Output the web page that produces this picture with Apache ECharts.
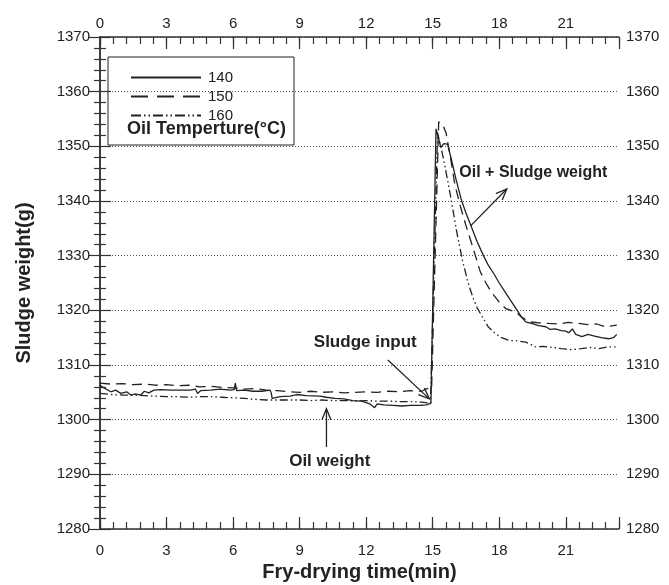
<!DOCTYPE html>
<html>
<head>
<meta charset="utf-8">
<script src="https://cdn.jsdelivr.net/npm/echarts@6/dist/echarts.min.js"></script>
<style>
html, body { margin: 0; padding: 0; background: #fff; }
#chart { width: 669px; height: 585px; }
</style>
</head>
<body>
<div id="chart"></div>
<script>
// oil temperature series (legend names)
var temps = ['140', '150', '160'];

// [time(min), weight(g)]
var w140 = [
  [0, 1306.3], [0.1, 1306.0], [0.49, 1305.1], [0.7, 1305.4], [0.94, 1304.8], [1.2, 1305.1],
  [1.39, 1304.5], [1.6, 1304.7], [1.84, 1304.5], [2.0, 1305.2], [2.2, 1304.9], [2.43, 1305.4],
  [2.74, 1305.5], [3.2, 1305.4], [3.6, 1305.4], [4.08, 1305.4], [4.3, 1305.6], [4.4, 1304.8],
  [4.53, 1305.3], [4.98, 1305.4], [5.43, 1305.6], [5.88, 1305.4], [6.05, 1305.5], [6.1, 1306.7],
  [6.16, 1305.3], [6.5, 1305.4], [6.9, 1305.2], [7.3, 1305.2], [7.67, 1305.4], [7.72, 1304.9],
  [7.76, 1303.9], [8.12, 1304.2], [8.57, 1304.3], [8.87, 1304.6], [9.3, 1304.4], [9.91, 1304.3],
  [10.2, 1304.1], [10.6, 1303.9], [11.0, 1303.8], [11.4, 1303.5], [11.8, 1303.4], [12.16, 1302.9],
  [12.38, 1302.2], [12.5, 1302.9], [12.8, 1302.7], [13.2, 1302.6], [13.6, 1302.5], [14.0, 1302.6],
  [14.4, 1302.6], [14.7, 1302.7], [14.92, 1303.0], [15.15, 1353.2], [15.37, 1349.8], [15.5, 1350.5],
  [15.67, 1350.4], [15.85, 1347.5], [16.05, 1344.0], [16.3, 1340.1], [16.5, 1337.8], [16.72, 1335.5],
  [17.0, 1332.6], [17.28, 1330.1], [17.5, 1328.3], [17.77, 1326.6], [18.0, 1325.0], [18.29, 1323.2],
  [18.55, 1321.6], [18.81, 1320.0], [19.0, 1318.8], [19.19, 1317.9], [19.45, 1317.6], [19.78, 1317.2],
  [20.1, 1317.0], [20.3, 1316.5], [20.53, 1316.6], [20.8, 1316.3], [21.0, 1316.2], [21.13, 1315.9],
  [21.3, 1316.6], [21.45, 1315.6], [21.73, 1315.2], [22.0, 1315.6], [22.3, 1315.3], [22.6, 1315.0],
  [22.93, 1314.8], [23.15, 1315.0], [23.3, 1315.6]
];
var w150 = [
  [0, 1306.7], [0.5, 1306.5], [1.0, 1306.6], [1.5, 1306.4], [2.0, 1306.5], [2.5, 1306.3],
  [3.0, 1306.4], [3.5, 1306.2], [4.0, 1306.3], [4.5, 1306.0], [5.0, 1306.1], [5.5, 1305.9],
  [6.0, 1305.8], [6.5, 1305.6], [7.0, 1305.7], [7.5, 1305.4], [8.0, 1305.3], [8.5, 1305.1],
  [9.0, 1305.0], [9.5, 1305.2], [10.0, 1305.0], [10.5, 1305.1], [11.0, 1304.9], [11.5, 1305.0],
  [12.0, 1305.1], [12.5, 1305.0], [13.0, 1305.2], [13.5, 1305.1], [14.0, 1305.3], [14.5, 1305.2],
  [14.75, 1305.7], [14.95, 1305.6], [15.27, 1354.5], [15.45, 1354.0], [15.6, 1352.5], [15.8, 1348.0],
  [16.0, 1343.0], [16.25, 1339.0], [16.5, 1335.5], [16.85, 1331.0], [17.15, 1327.0], [17.4, 1325.0],
  [17.65, 1323.3], [18.0, 1321.5], [18.3, 1320.3], [18.74, 1319.7], [19.0, 1318.8], [19.34, 1317.9],
  [19.8, 1317.7], [20.23, 1317.6], [20.7, 1317.5], [21.1, 1317.8], [21.58, 1317.6], [22.0, 1317.4],
  [22.4, 1317.5], [22.78, 1317.0], [23.3, 1317.3]
];
var w160 = [
  [0, 1304.8], [0.5, 1304.6], [1.0, 1304.5], [1.5, 1304.5], [2.0, 1304.4], [2.5, 1304.3],
  [3.0, 1304.2], [3.5, 1304.2], [4.0, 1304.1], [4.5, 1304.2], [5.0, 1304.2], [5.5, 1304.1],
  [6.0, 1304.0], [6.5, 1303.9], [7.0, 1303.7], [7.5, 1303.6], [8.0, 1303.6], [8.5, 1303.6],
  [9.0, 1303.6], [9.5, 1303.5], [10.0, 1303.6], [10.5, 1303.5], [11.0, 1303.5], [11.5, 1303.4],
  [12.0, 1303.5], [12.5, 1303.4], [13.0, 1303.4], [13.5, 1303.3], [14.0, 1303.3], [14.5, 1303.2],
  [14.9, 1303.0], [15.22, 1352.5], [15.5, 1347.5], [15.8, 1341.0], [16.1, 1334.0], [16.35, 1329.0],
  [16.6, 1325.0], [16.8, 1322.5], [17.0, 1320.5], [17.24, 1318.8], [17.5, 1317.0], [17.84, 1315.7],
  [18.1, 1315.0], [18.44, 1314.5], [18.8, 1314.4], [19.19, 1314.2], [19.4, 1313.8], [19.64, 1313.3],
  [20.0, 1313.4], [20.4, 1313.2], [20.8, 1313.0], [21.28, 1312.8], [21.7, 1313.0], [22.1, 1313.2],
  [22.5, 1313.0], [22.9, 1313.3], [23.3, 1313.3]
];

// annotations in data coordinates
var arrows = [
  { from: [16.72, 1335.5], to: [18.34, 1342.2] },
  { from: [12.98, 1310.9], to: [14.85, 1303.8] },
  { from: [10.21, 1295.0], to: [10.21, 1302.0] }
];
var notes = [
  { text: 'Oil + Sludge weight', at: [16.2, 1345.2], align: 'left', size: 16 },
  { text: 'Sludge input', at: [11.96, 1314.2], align: 'center', size: 17 },
  { text: 'Oil weight', at: [10.36, 1292.4], align: 'center', size: 17 }
];

var FONT = '"Liberation Sans", Arial, sans-serif';
var INK = '#222';

var myChart = echarts.init(document.getElementById('chart'));

function xMajor(pos) {
  return {
    gridIndex: 0, type: 'value', position: pos, min: 0, max: 23.4, interval: 3,
    axisLine: { show: true, lineStyle: { color: '#333', width: 1.5 } },
    axisTick: { show: true, inside: true, length: 12, lineStyle: { color: '#333', width: 1.2 } },
    axisLabel: {
      show: true, margin: pos == 'top' ? 6 : 14, fontSize: 15, color: INK, fontFamily: FONT,
      formatter: function (v) { return Math.abs(v / 3 - Math.round(v / 3)) < 1e-6 ? String(Math.round(v)) : ''; }
    },
    splitLine: { show: false }
  };
}
function xMinor(pos) {
  return {
    gridIndex: 1, type: 'value', position: pos, min: 0, max: 23.4, interval: 0.6,
    axisLine: { show: false },
    axisTick: { show: true, inside: true, length: 7, lineStyle: { color: '#333', width: 1.2 } },
    axisLabel: { show: false },
    splitLine: { show: false }
  };
}
function yMajor(pos) {
  return {
    gridIndex: 0, type: 'value', position: pos, min: 1280, max: 1370, interval: 10,
    axisLine: { show: true, lineStyle: { color: '#333', width: 1.5 } },
    axisTick: { show: true, inside: true, length: 11, lineStyle: { color: '#333', width: 1.2 } },
    minorTick: { show: true, splitNumber: 5, length: 6, lineStyle: { color: '#333', width: 1.2 } },
    axisLabel: {
      show: true, margin: pos == 'left' ? 10 : 7, fontSize: 15, color: INK, fontFamily: FONT,
      formatter: function (v) { return String(v); }
    },
    splitLine: { show: pos == 'left', lineStyle: { color: '#555', width: 1, type: [1, 2] } }
  };
}

var xBottom = xMajor('bottom');
xBottom.name = 'Fry-drying time(min)';
xBottom.nameLocation = 'middle';
xBottom.nameGap = 33;
xBottom.nameTextStyle = { fontSize: 20, fontWeight: 'bold', color: INK, fontFamily: FONT };

var yLeft = yMajor('left');
yLeft.name = 'Sludge weight(g)';
yLeft.nameLocation = 'middle';
yLeft.nameRotate = 90;
yLeft.nameGap = 66;
yLeft.nameTextStyle = { fontSize: 20, fontWeight: 'bold', color: INK, fontFamily: FONT };

var styles = [
  { color: INK, width: 1.3, type: 'solid' },
  { color: INK, width: 1.3, type: [10, 6] },
  { color: INK, width: 1.3, type: [8, 3, 1.5, 3, 1.5, 3] }
];
var seriesData = [w140, w150, w160];

var option = {
  backgroundColor: '#fff',
  animation: false,
  grid: [
    { left: 100, right: 50, top: 37, bottom: 56, outerBoundsMode: 'none' },
    { left: 100, right: 50, top: 37, bottom: 56, outerBoundsMode: 'none' }
  ],
  xAxis: [xBottom, xMajor('top'), xMinor('bottom'), xMinor('top')],
  yAxis: [yLeft, yMajor('right'),
    { gridIndex: 1, type: 'value', min: 1280, max: 1370, show: false },
    { gridIndex: 1, type: 'value', min: 1280, max: 1370, show: false }],
  legend: {
    orient: 'vertical', left: 125, top: 65, itemWidth: 70, itemHeight: 12, itemGap: 4,
    itemStyle: { opacity: 0 },
    textStyle: { fontSize: 15, color: INK, fontFamily: FONT, padding: [0, 0, 0, 2] },
    data: [
      { name: temps[0] },
      { name: temps[1], lineStyle: { type: [17, 9] } },
      { name: temps[2], lineStyle: { type: [10, 3, 1.5, 3, 1.5, 3] } }
    ]
  },
  series: temps.map(function (name, i) {
    return {
      name: name, type: 'line', xAxisIndex: 0, yAxisIndex: 0,
      symbol: 'none', showSymbol: false, silent: true,
      lineStyle: styles[i], itemStyle: { color: INK },
      data: seriesData[i]
    };
  })
};
myChart.setOption(option);

// legend box, title and annotations
var graphics = [
  { type: 'rect', shape: { x: 108, y: 57, width: 186, height: 88 },
    style: { fill: 'none', stroke: '#222', lineWidth: 1 } },
  { type: 'text', x: 127, y: 129,
    style: { text: 'Oil Temperture(°C)', font: 'bold 18px ' + FONT, fill: INK, verticalAlign: 'middle' } }
];
arrows.forEach(function (a) {
  var p0 = myChart.convertToPixel({ gridIndex: 0 }, a.from);
  var p1 = myChart.convertToPixel({ gridIndex: 0 }, a.to);
  var dx = p1[0] - p0[0], dy = p1[1] - p0[1];
  var len = Math.sqrt(dx * dx + dy * dy);
  var ux = dx / len, uy = dy / len;
  var hl = 11, hw = 4.5;
  graphics.push({ type: 'line', shape: { x1: p0[0], y1: p0[1], x2: p1[0], y2: p1[1] },
    style: { stroke: '#222', lineWidth: 1.3 } });
  graphics.push({ type: 'polyline', shape: { points: [
      [p1[0] - hl * ux - hw * uy, p1[1] - hl * uy + hw * ux],
      [p1[0], p1[1]],
      [p1[0] - hl * ux + hw * uy, p1[1] - hl * uy - hw * ux]] },
    style: { stroke: '#222', lineWidth: 1.3, fill: 'none' } });
});
notes.forEach(function (n) {
  var p = myChart.convertToPixel({ gridIndex: 0 }, n.at);
  graphics.push({ type: 'text', x: p[0], y: p[1],
    style: { text: n.text, font: 'bold ' + n.size + 'px ' + FONT, fill: INK, align: n.align, verticalAlign: 'middle' } });
});
myChart.setOption({ graphic: graphics });
</script>
</body>
</html>
